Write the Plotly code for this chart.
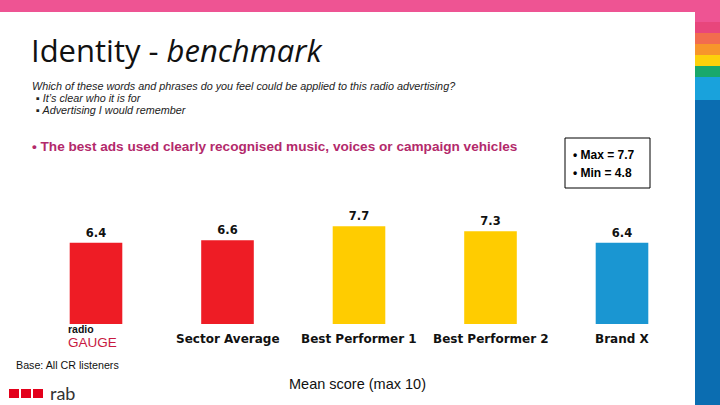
import plotly.graph_objects as go

categories = ["radio GAUGE", "Sector Average", "Best Performer 1", "Best Performer 2", "Brand X"]
values = [6.4, 6.6, 7.7, 7.3, 6.4]
bar_colors = ["#ee1c25", "#ee1c25", "#ffcc00", "#ffcc00", "#1a96d2"]
value_labels = ["6.4", "6.6", "7.7", "7.3", "6.4"]

W, H = 720, 405

def py(y):
    return (H - y) / H

def px(x):
    return x / W

fig = go.Figure()
fig.add_trace(go.Bar(
    x=categories, y=values, marker=dict(color=bar_colors, line=dict(width=0)),
    width=0.4, text=value_labels, textposition="outside", cliponaxis=False,
    textfont=dict(family="DejaVu Sans", size=11.5, color="#111", weight="bold"),
    hoverinfo="skip",
))

fig.update_layout(
    width=W, height=H, margin=dict(l=0, r=0, t=0, b=0),
    paper_bgcolor="white", plot_bgcolor="white", showlegend=False,
    xaxis=dict(domain=[px(30.25), px(687.75)], range=[-0.5, 4.5], showticklabels=False,
               showgrid=False, zeroline=False, showline=False, fixedrange=True),
    yaxis=dict(domain=[py(324), py(197)], range=[0, 10], visible=False, fixedrange=True),
)

shapes = []
# top pink band
shapes.append(dict(type="rect", xref="paper", yref="paper", x0=0, x1=1, y0=py(12), y1=1,
                   fillcolor="#ee5493", line=dict(width=0), layer="below"))
strip = [(12, 22, "#ee5493"), (22, 33, "#e8467c"), (33, 44, "#f26c4f"), (44, 55, "#f7962b"),
         (55, 66, "#fdd10b"), (66, 77, "#19a86b"), (77, 100, "#19a2dc"), (100, 405, "#0b6db1")]
for y0, y1, c in strip:
    shapes.append(dict(type="rect", xref="paper", yref="paper", x0=px(695), x1=1,
                       y0=py(y1), y1=py(y0), fillcolor=c, line=dict(width=0), layer="below"))
# Max/Min box
shapes.append(dict(type="rect", xref="paper", yref="paper", x0=px(565), x1=px(650),
                   y0=py(188), y1=py(138), line=dict(color="black", width=1), fillcolor="white",
                   layer="below"))
# rab squares
for x0 in (9, 21, 33):
    shapes.append(dict(type="rect", xref="paper", yref="paper", x0=px(x0), x1=px(x0 + 10),
                       y0=py(398), y1=py(389), fillcolor="#e3001b", line=dict(width=0)))
fig.update_layout(shapes=shapes)

ann = []
def txt(x, y, text, size, color="black", family="Liberation Sans", xanchor="left", weight="normal", style="normal"):
    ann.append(dict(xref="paper", yref="paper", x=px(x), y=py(y), text=text, showarrow=False,
                    xanchor=xanchor, yanchor="middle",
                    font=dict(family=family, size=size, color=color, weight=weight, style=style)))

txt(29, 50, "Identity - <i>benchmark</i>", 31, color="#111", family="Open Sans")
txt(30, 86, "Which of these words and phrases do you feel could be applied to this radio advertising?", 10.8, style="italic", color="#222")
txt(34, 98, "▪ It’s clear who it is for", 10.8, style="italic", color="#222")
txt(34, 110, "▪ Advertising I would remember", 10.8, style="italic", color="#222")
txt(30, 146, "• The best ads used clearly recognised music, voices or campaign vehicles", 13.6, color="#b3296b", weight="bold")
txt(571, 155, "• Max = 7.7", 12, weight="bold")
txt(571, 173, "• Min = 4.8", 12, weight="bold")
txt(14, 365, "Base: All CR listeners", 10.7, color="#111")
txt(357, 384, "Mean score (max 10)", 14.5, xanchor="center", color="#111")
txt(48, 393, "rab", 18, color="#333", family="Lato")

# category labels on the x axis
for i, c in enumerate(categories):
    if i == 0:
        ann.append(dict(xref="x", yref="paper", x=c, y=py(336), align="left",
                        text="<b>radio</b><br><span style='font-size:13.5px;color:#c8193f'>GAUGE</span>",
                        showarrow=False, xanchor="left", xshift=-30, yanchor="middle",
                        font=dict(family="Liberation Sans", size=10.5, color="#111")))
    else:
        ann.append(dict(xref="x", yref="paper", x=c, y=py(339), text=c, showarrow=False,
                        xanchor="center", yanchor="middle",
                        font=dict(family="DejaVu Sans", size=12, color="#111", weight="bold")))
fig.update_layout(annotations=ann)

fig.write_html("out.html", config={"displayModeBar": False},
               post_script="document.body.style.margin='0';document.body.style.overflow='hidden';")
